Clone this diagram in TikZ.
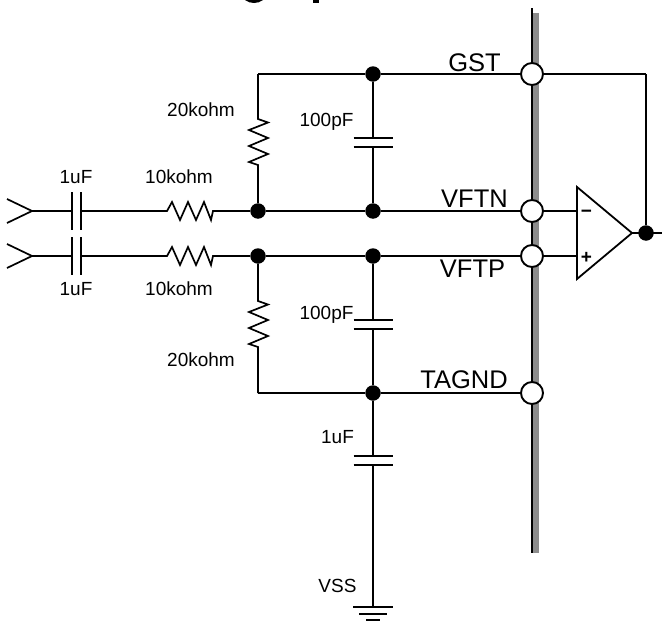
\documentclass[tikz,border=0pt]{standalone}
\usepackage{fontspec}
\setmainfont{Liberation Sans}
\usetikzlibrary{calc}

\tikzset{
  wire/.style={line width=1.7pt},
  dot/.style={circle, fill=black, draw=none, inner sep=0pt, minimum size=15.5pt},
  port/.style={circle, fill=white, draw=black, line width=1.9pt, inner sep=0pt, minimum size=22pt},
  smalllbl/.style={anchor=base, inner sep=0pt, font=\fontsize{19}{20}\selectfont},
  biglbl/.style={anchor=base, inner sep=0pt, font=\fontsize{25.5}{27}\selectfont},
  resh/.style={to path={-- ++(5,-9) -- ++(8,18) -- ++(8,-18) -- ++(8,18) -- ++(8,-18) -- ++(7,18) -- ++(2,-9) -- (\tikztotarget)}},
  resv/.style={to path={-- ++(10,3.5) -- ++(-19,7.5) -- ++(19,8) -- ++(-19,8) -- ++(19,8) -- ++(-19,8) -- ++(9,3) -- (\tikztotarget)}},
  capv/.pic={
    \coordinate (-a) at (0,-4.5);
    \coordinate (-b) at (0,4.5);
    \draw[wire] (-19.5,-4.5) -- (19.5,-4.5);
    \draw[wire] (-19.5,4.5) -- (19.5,4.5);
  },
  caph/.pic={
    \coordinate (-a) at (-4.5,0);
    \coordinate (-b) at (4.5,0);
    \draw[wire] (-4.5,-19) -- (-4.5,19);
    \draw[wire] (4.5,-19) -- (4.5,19);
  }
}

\begin{document}
\begin{tikzpicture}[x=1pt, y=-1pt]
    \useasboundingbox (0,0) rectangle (662,621);

    % bus
    \fill[black!45] (533,13) rectangle (539,553);
    \coordinate (bustop) at (531.7,8);
    \coordinate (busend) at (531.7,553);
    \draw[line width=2.4pt] (bustop) -- (busend);

    % clipped title
    \fill (245,0) .. controls (250,4) and (258,4) .. (263,0) -- cycle;
    \fill (313,0) rectangle (319,3);

    % junctions
    \node[dot] (gst) at (373,74) {};
    \node[dot] (vftn1) at (258,211) {};
    \node[dot] (vftn2) at (373,211) {};
    \node[dot] (vftp1) at (258,256) {};
    \node[dot] (vftp2) at (373,256) {};
    \node[dot] (tag) at (373,393) {};
    \node[dot] (out) at (646,233) {};

    % corners and free ends
    \coordinate (gstl) at (258,74);
    \coordinate (gstr) at (646,74);
    \coordinate (tagl) at (258,393);
    \coordinate (outr) at (662,233);
    \coordinate (inn) at (32,211);
    \coordinate (inp) at (32,256);
    \coordinate (gnd) at (373,607);
    \coordinate (ampn) at (577,211);
    \coordinate (ampp) at (577,256);
    \coordinate (amptop) at (577,187);
    \coordinate (ampbot) at (577,279);
    \coordinate (amptip) at (632,233);

    % capacitors
    \pic (c1) at (76.5,211) {caph};
    \pic (c2) at (76.5,256) {caph};
    \pic (c3) at (373,142.5) {capv};
    \pic (c4) at (373,324.5) {capv};
    \pic (c5) at (373,460.5) {capv};

    % wires
    \draw[wire] (inn) -- (c1-a);
    \draw[wire] (c1-b) -- (167,211) to[resh] (vftn1);
    \draw[wire] (inp) -- (c2-a);
    \draw[wire] (c2-b) -- (167,256) to[resh] (vftp1);
    \draw[wire] (vftn1) -- (vftn2);
    \draw[wire] (vftp1) -- (vftp2);
    \draw[wire] (gstl) -- (gst);
    \draw[wire] (gstl) -- (258,119) to[resv] (vftn1);
    \draw[wire] (vftp1) -- (258,301) to[resv] (tagl);
    \draw[wire] (tagl) -- (tag);
    \draw[wire] (gst) -- (c3-a);
    \draw[wire] (c3-b) -- (vftn2);
    \draw[wire] (vftp2) -- (c4-a);
    \draw[wire] (c4-b) -- (tag);
    \draw[wire] (tag) -- (c5-a);
    \draw[wire] (c5-b) -- (gnd);
    \draw[wire] (gstr) -- (out);
    \draw[wire] (amptip) -- (outr);

    % inputs
    \draw[wire] (7,199) -- (inn) -- (7,223);
    \draw[wire] (7,244) -- (inp) -- (7,268);

    % ground
    \draw[wire] ($(gnd)+(-20,0)$) -- ($(gnd)+(20,0)$);
    \draw[wire] ($(gnd)+(-14,7)$) -- ($(gnd)+(14,7)$);
    \draw[wire] ($(gnd)+(-7,13)$) -- ($(gnd)+(7,13)$);

    % amp
    \draw[line width=1.8pt, line join=miter] (amptop) -- (amptip) -- (ampbot) -- cycle;
    \node[port] (pgst) at (532,74) {};
    \node[port] (pvftn) at (532,211) {};
    \node[port] (pvftp) at (532,256) {};
    \node[port] (ptag) at (532,393) {};
    \draw[wire] (gst) -- (pgst);
    \draw[wire] (pgst) -- (gstr);
    \draw[wire] (vftn2) -- (pvftn);
    \draw[wire] (vftp2) -- (pvftp);
    \draw[wire] (tag) -- (ptag);
    \draw[wire] (pvftn) -- (ampn);
    \draw[wire] (pvftp) -- (ampp);
    \node[smalllbl] (minus) at (586.5,217) {\bfseries −};
    \node[smalllbl] (plus) at (586.5,263) {\bfseries +};

    % labels
    \node[biglbl] (lgst) at (474.5,71) {GST};
    \node[biglbl] (lvftn) at (474.5,207) {VFTN};
    \node[biglbl] (lvftp) at (472.5,277) {VFTP};
    \node[biglbl] (ltag) at (464,388) {TAGND};
    \node[smalllbl] (lr1) at (201,116) {20kohm};
    \node[smalllbl] (lr2) at (201,366.5) {20kohm};
    \node[smalllbl] (lc3) at (326.5,126) {100pF};
    \node[smalllbl] (lc4) at (326.5,319) {100pF};
    \node[smalllbl] (lc5) at (337.5,443) {1uF};
    \node[smalllbl] (lc1) at (76,183) {1uF};
    \node[smalllbl] (lc2) at (76,295) {1uF};
    \node[smalllbl] (lr3) at (179,183) {10kohm};
    \node[smalllbl] (lr4) at (179,295) {10kohm};
    \node[smalllbl] (lvss) at (337.5,592) {VSS};
\end{tikzpicture}
\end{document}
